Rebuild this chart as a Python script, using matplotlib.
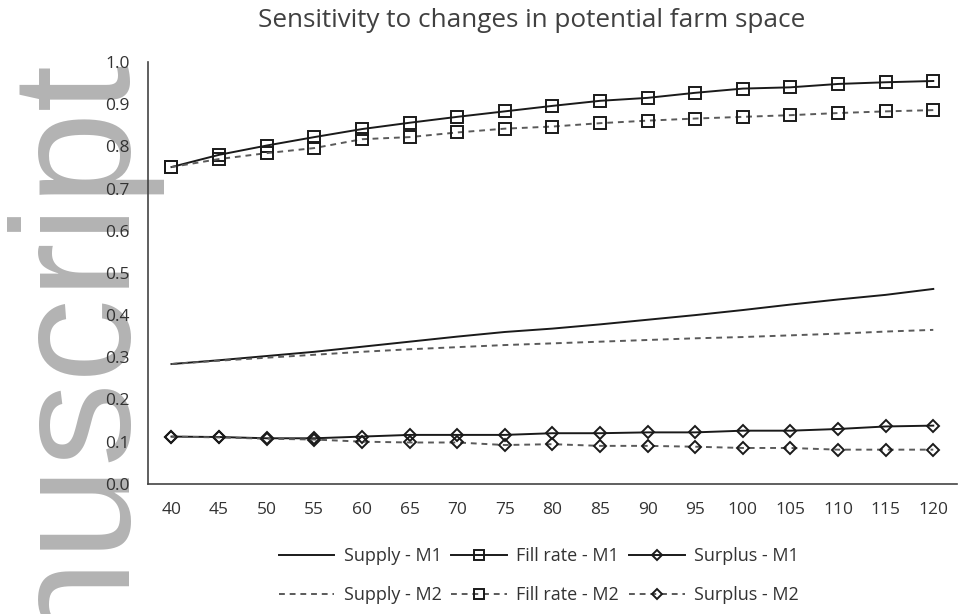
import matplotlib
matplotlib.use("Agg")
import matplotlib.pyplot as plt

plt.rcParams['font.family'] = ['Open Sans', 'DejaVu Sans']

space = [40, 45, 50, 55, 60, 65, 70, 75, 80, 85, 90, 95, 100, 105, 110, 115, 120]

supply_m1 = [0.284, 0.293, 0.303, 0.313, 0.325, 0.337, 0.349, 0.360, 0.368, 0.378,
             0.389, 0.400, 0.412, 0.425, 0.437, 0.448, 0.462]
supply_m2 = [0.284, 0.292, 0.299, 0.306, 0.313, 0.319, 0.324, 0.329, 0.333, 0.337,
             0.341, 0.345, 0.348, 0.352, 0.356, 0.361, 0.365]
fill_m1 = [0.751, 0.780, 0.802, 0.822, 0.841, 0.856, 0.870, 0.883, 0.896, 0.908,
           0.915, 0.927, 0.937, 0.940, 0.948, 0.952, 0.955]
fill_m2 = [0.751, 0.770, 0.784, 0.796, 0.817, 0.822, 0.833, 0.842, 0.847, 0.855,
           0.861, 0.866, 0.870, 0.874, 0.879, 0.883, 0.886]
surplus_m1 = [0.112, 0.111, 0.108, 0.108, 0.112, 0.116, 0.116, 0.116, 0.120, 0.120,
              0.122, 0.122, 0.126, 0.126, 0.130, 0.136, 0.138]
surplus_m2 = [0.112, 0.110, 0.107, 0.105, 0.100, 0.098, 0.098, 0.092, 0.094, 0.090,
              0.090, 0.088, 0.085, 0.085, 0.081, 0.081, 0.081]

fig = plt.figure(figsize=(9.59, 6.14), dpi=100)

# водяной знак слева (за осями)
fig.text(0.172, 0.894, 'Accepted Manuscript', rotation=90, ha='right', va='top',
         fontsize=121, color='#b3b3b3', family='Liberation Sans', zorder=-5)

ax = fig.add_axes([0.154, 0.212, 0.844, 0.687])
ax.patch.set_alpha(0)

c1 = '#1a1a1a'
c2 = '#5a5a5a'
ax.plot(space, supply_m1, '-', color=c1, lw=1.4, label='Supply - M1')
ax.plot(space, supply_m2, '--', color=c2, lw=1.4, dashes=(3, 2.5), label='Supply - M2')
ax.plot(space, fill_m1, '-', color=c1, lw=1.4, marker='s', ms=8.5, mfc='none',
        mec=c1, mew=1.4, label='Fill rate - M1')
ax.plot(space, fill_m2, '--', color=c2, lw=1.4, dashes=(3, 2.5), marker='s', ms=8.5,
        mfc='none', mec=c1, mew=1.4, label='Fill rate - M2')
ax.plot(space, surplus_m1, '-', color=c1, lw=1.4, marker='D', ms=6.5, mfc='none',
        mec=c1, mew=1.4, label='Surplus - M1')
ax.plot(space, surplus_m2, '--', color=c2, lw=1.4, dashes=(3, 2.5), marker='D', ms=6.5,
        mfc='none', mec=c1, mew=1.4, label='Surplus - M2')

ax.set_xlim(37.5, 122.5)
ax.set_ylim(0, 1.0)
ax.set_xticks(space)
ax.set_yticks([i / 10 for i in range(11)])
ax.set_yticklabels(['{:.1f}'.format(i / 10) for i in range(11)])
ax.tick_params(length=0, labelsize=12.5, colors='#333333')
ax.tick_params(axis='x', pad=13)
ax.tick_params(axis='y', pad=13)
for s in ['top', 'right']:
    ax.spines[s].set_visible(False)
for s in ['left', 'bottom']:
    ax.spines[s].set_color('#444444')
    ax.spines[s].set_linewidth(1.2)

fig.text(0.554, 0.966, 'Sensitivity to changes in potential farm space', fontsize=18.8,
         color='#404040', ha='center', va='center')

handles, labels = ax.get_legend_handles_labels()
ax.legend(handles, labels, ncol=3, loc='center', bbox_to_anchor=(0.483, -0.218),
          frameon=False, fontsize=13, handlelength=3.1, columnspacing=0.55,
          handletextpad=0.5, labelspacing=1.15, labelcolor='#333333', markerscale=0.8)

fig.savefig('out.png', dpi=100)
